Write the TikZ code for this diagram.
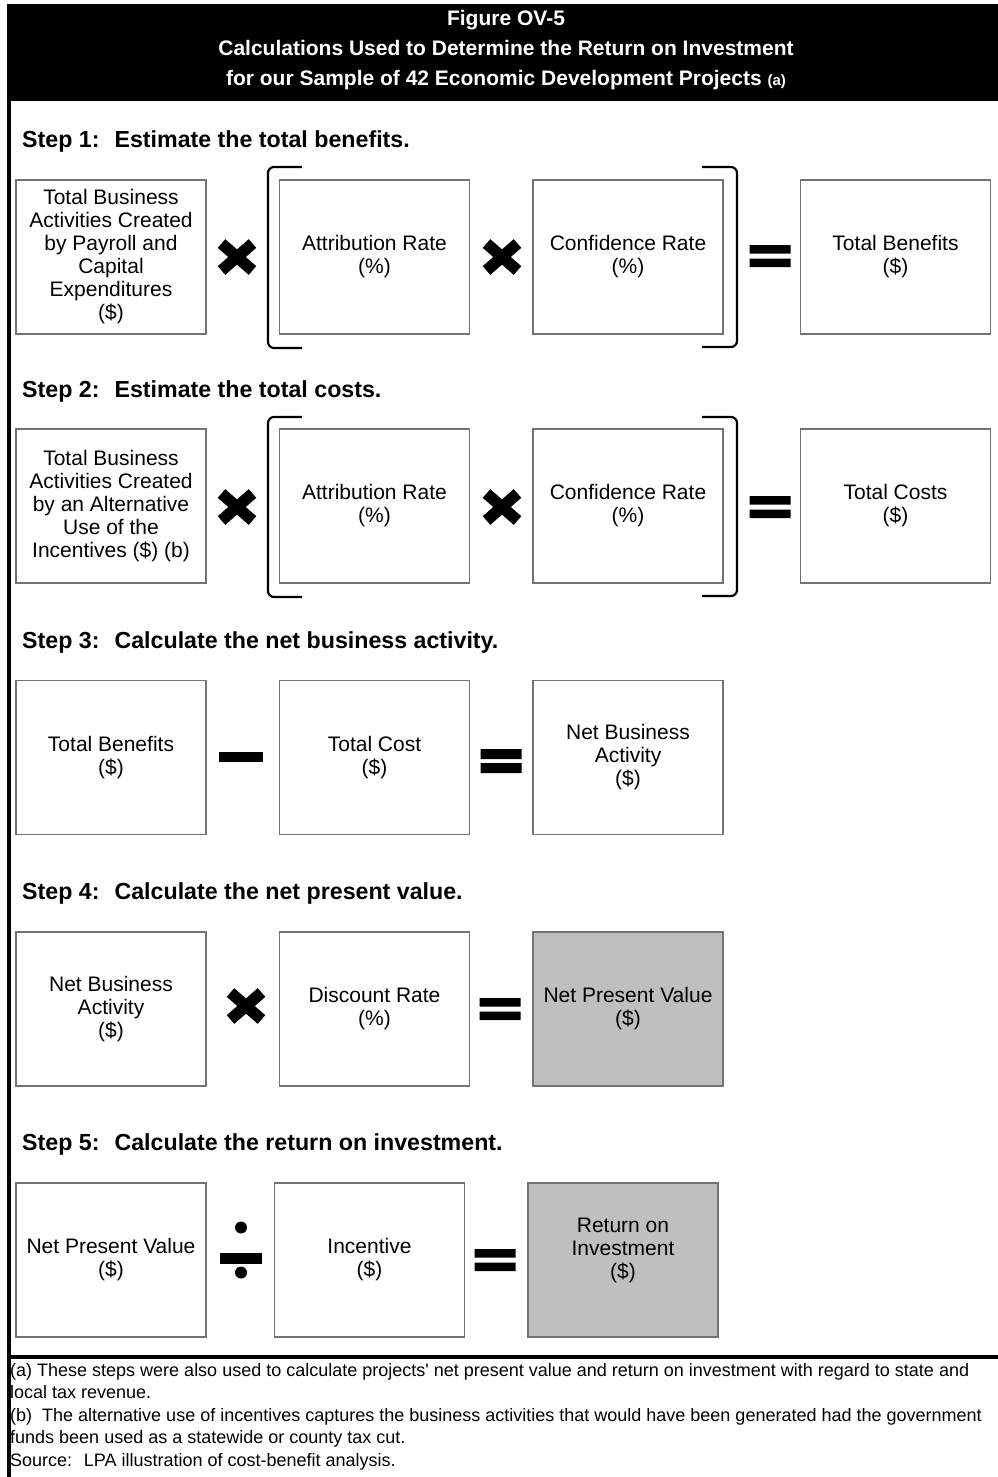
\documentclass[tikz,border=0pt]{standalone}
\usepackage{fontspec}
\setmainfont{Liberation Sans}
\usetikzlibrary{positioning}

\begin{document}
\begin{tikzpicture}[x=1pt,y=-1pt,on grid,
    box/.style={draw=black!55,line width=1.2pt,minimum width=190pt,minimum height=154pt,
      align=center,font=\fontsize{21}{23}\selectfont},
    result/.style={box,fill=black!25},
    steptitle/.style={anchor=base west,inner sep=0pt,font=\bfseries\fontsize{23.2}{27}\selectfont},
    opx/.style={line width=11.5pt},
    brk/.style={line width=2.2pt,rounded corners=6pt}]
  \useasboundingbox (0,0) rectangle (998,1477);
  % frame and heading bar
  \fill (7,4) rectangle (998,101);
  \fill (7,4) rectangle (11,1477);
  \fill (7,1355) rectangle (998,1359);
  \node[text=white,align=center,font=\bfseries\fontsize{21}{30}\selectfont] (title) at (506,50)
    {Figure OV-5\\Calculations Used to Determine the Return on Investment\\
     for our Sample of 42 Economic Development Projects {\fontsize{15}{15}\selectfont(a)}};

  % step 1
  \node[steptitle] (s1) at (22,147) {Step 1:~ Estimate the total benefits.};
  \node[box] (a1) at (111,257) {Total Business\\Activities Created\\by Payroll and\\Capital\\Expenditures\\(\$)};
  \node[box] (b1) [right=263.5pt of a1] {Attribution Rate\\(\%)};
  \node[box] (c1) [right=253.5pt of b1] {Confidence Rate\\(\%)};
  \node[box] (d1) [right=267.5pt of c1] {Total Benefits\\(\$)};
  \draw[opx] (237,257) +(-15.5,-13.5) -- +(15.5,13.5) +(-15.5,13.5) -- +(15.5,-13.5);
  \draw[opx] (502,257) +(-15.5,-13.5) -- +(15.5,13.5) +(-15.5,13.5) -- +(15.5,-13.5);
  \fill (770,256) +(-20.5,-11) rectangle +(20.5,-2.5) +(-20.5,2.5) rectangle +(20.5,11);
  \draw[brk] (302,167) -| (268,348) -- (302,348);
  \draw[brk] (702,167) -| (737,347) -- (702,347);

  % step 2
  \node[steptitle] (s2) at (22,397) {Step 2:~ Estimate the total costs.};
  \node[box] (a2) [below=249pt of a1] {Total Business\\Activities Created\\by an Alternative\\Use of the\\Incentives (\$) (b)};
  \node[box] (b2) [right=263.5pt of a2] {Attribution Rate\\(\%)};
  \node[box] (c2) [right=253.5pt of b2] {Confidence Rate\\(\%)};
  \node[box] (d2) [right=267.5pt of c2] {Total Costs\\(\$)};
  \draw[opx] (237,507) +(-15.5,-13.5) -- +(15.5,13.5) +(-15.5,13.5) -- +(15.5,-13.5);
  \draw[opx] (502,507) +(-15.5,-13.5) -- +(15.5,13.5) +(-15.5,13.5) -- +(15.5,-13.5);
  \fill (770,507) +(-20.5,-11) rectangle +(20.5,-2.5) +(-20.5,2.5) rectangle +(20.5,11);
  \draw[brk] (302,417) -| (268,597) -- (302,597);
  \draw[brk] (702,417) -| (737,596) -- (702,596);

  % step 3
  \node[steptitle] (s3) at (22,648) {Step 3:~ Calculate the net business activity.};
  \node[box] (a3) [below=251.5pt of a2] {Total Benefits\\(\$)};
  \node[box] (b3) [right=263.5pt of a3] {Total Cost\\(\$)};
  \node[box] (c3) [right=253.5pt of b3] {Net Business\\Activity\\(\$)};
  \fill (241,757) +(-22,-5) rectangle +(22,5);
  \fill (501,761) +(-20.5,-12) rectangle +(20.5,-2) +(-20.5,2) rectangle +(20.5,12);

  % step 4
  \node[steptitle] (s4) at (22,899) {Step 4:~ Calculate the net present value.};
  \node[box] (a4) [below=251.5pt of a3] {Net Business\\Activity\\(\$)};
  \node[box] (b4) [right=263.5pt of a4] {Discount Rate\\(\%)};
  \node[result] (c4) [right=253.5pt of b4] {Net Present Value\\(\$)};
  \draw[opx] (246,1006) +(-15.5,-13.5) -- +(15.5,13.5) +(-15.5,13.5) -- +(15.5,-13.5);
  \fill (500,1009) +(-20.5,-11) rectangle +(20.5,-2.5) +(-20.5,2.5) rectangle +(20.5,11);

  % step 5
  \node[steptitle] (s5) at (22,1150) {Step 5:~ Calculate the return on investment.};
  \node[box] (a5) [below=251pt of a4] {Net Present Value\\(\$)};
  \node[box] (b5) [right=258.5pt of a5] {Incentive\\(\$)};
  \node[result] (c5) [right=253.5pt of b5] {Return on\\Investment\\(\$)\\\mbox{}};
  \fill (241,1258.5) +(-21,-5.5) rectangle +(21,5.5);
  \fill (241,1227.5) circle (6);
  \fill (241,1272.5) circle (6);
  \fill (495,1260) +(-20.5,-11) rectangle +(20.5,-2.5) +(-20.5,2.5) rectangle +(20.5,11);

  % notes
  \node[anchor=north west,inner sep=0pt,align=left,font=\fontsize{18}{22.5}\selectfont] (notes) at (10,1363)
    {(a) These steps were also used to calculate projects\textquotesingle{} net present value and return on investment with regard to state and\\
     local tax revenue.\\
     (b)~ The alternative use of incentives captures the business activities that would have been generated had the government\\
     funds been used as a statewide or county tax cut.\\
     Source:~ LPA illustration of cost-benefit analysis.};
\end{tikzpicture}
\end{document}
